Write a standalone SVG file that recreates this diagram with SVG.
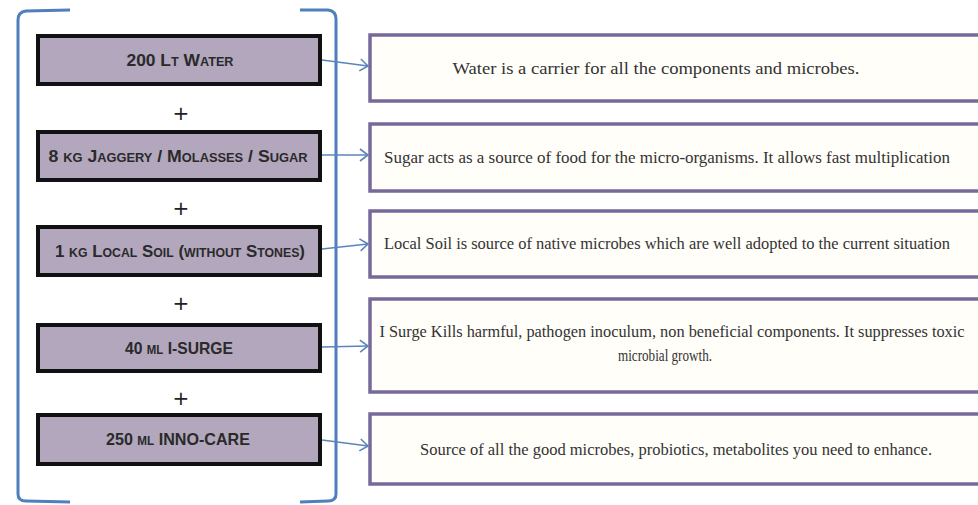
<svg xmlns="http://www.w3.org/2000/svg" width="978" height="505" viewBox="0 0 978 505">
<style>
.in rect{fill:#b2a7bd;stroke:#111;stroke-width:4}
.in text{font-family:"Liberation Sans",Arial,sans-serif;font-weight:bold;font-size:16.5px;fill:#2a2a2a;text-anchor:middle;font-variant:small-caps}
.out rect{fill:#fffef9;stroke:#77699a;stroke-width:3.5}
.out text{font-family:"Liberation Serif","Times New Roman",serif;font-size:16px;fill:#333;text-anchor:middle}
.plus{font-family:"DejaVu Sans",sans-serif;font-size:20px;fill:#222;text-anchor:middle}
.br{fill:none;stroke:#4f7fbd;stroke-width:3}
.conn line{stroke:#5b84bd;stroke-width:1.6;marker-end:url(#ah)}
</style>
<defs>
<marker id="ah" viewBox="0 0 10 14" refX="9" refY="7" markerWidth="10" markerHeight="14" markerUnits="userSpaceOnUse" orient="auto">
<path d="M1,1 L9,7 L1,13" fill="none" stroke="#5b84bd" stroke-width="1.6"/>
</marker>
</defs>
<rect width="978" height="505" fill="#fff"/>
<g id="bracket">
<path class="br" d="M70,10 L26,11 Q18,12 18,20 L18,494 Q18,501 26,501 L70,502"/>
<path class="br" d="M300,10 L328,10 Q336,11 336,19 L336,494 Q336,501 328,501 L300,502" stroke-width="2.5"/>
</g>
<g id="in1" class="in"><rect x="38" y="36" width="282" height="48"/><text x="180" y="66" textLength="107" lengthAdjust="spacingAndGlyphs">200 Lt Water</text></g>
<g id="in2" class="in"><rect x="38" y="132" width="282" height="48"/><text x="178" y="162" textLength="259" lengthAdjust="spacingAndGlyphs">8 kg Jaggery / Molasses / Sugar</text></g>
<g id="in3" class="in"><rect x="38" y="227" width="282" height="48"/><text x="180" y="257" textLength="250" lengthAdjust="spacingAndGlyphs">1 kg Local Soil (without Stones)</text></g>
<g id="in4" class="in"><rect x="38" y="325" width="282" height="46"/><text x="179" y="354" textLength="108" lengthAdjust="spacingAndGlyphs">40 ml I-SURGE</text></g>
<g id="in5" class="in"><rect x="38" y="415" width="282" height="49"/><text x="178" y="445" textLength="144" lengthAdjust="spacingAndGlyphs">250 ml INNO-CARE</text></g>
<g id="plus">
<text class="plus" x="181" y="120">+</text>
<text class="plus" x="181" y="215">+</text>
<text class="plus" x="181" y="310">+</text>
<text class="plus" x="181" y="405">+</text>
</g>
<g id="out1" class="out"><rect x="370" y="35" width="620" height="66"/><text x="656" y="74" textLength="407" lengthAdjust="spacingAndGlyphs">Water is a carrier for all the components and microbes.</text></g>
<g id="out2" class="out"><rect x="370" y="124" width="620" height="67"/><text x="667" y="163" textLength="566" lengthAdjust="spacingAndGlyphs">Sugar acts as a source of food for the micro-organisms. It allows fast multiplication</text></g>
<g id="out3" class="out"><rect x="370" y="211" width="620" height="66"/><text x="667" y="249" textLength="566" lengthAdjust="spacingAndGlyphs">Local Soil is source of native microbes which are well adopted to the current situation</text></g>
<g id="out4" class="out"><rect x="370" y="299" width="620" height="93"/><text x="672" y="337" textLength="585" lengthAdjust="spacingAndGlyphs">I Surge Kills harmful, pathogen inoculum, non beneficial components. It suppresses toxic</text><text x="665" y="361" textLength="94" lengthAdjust="spacingAndGlyphs">microbial growth.</text></g>
<g id="out5" class="out"><rect x="370" y="414" width="620" height="70"/><text x="676" y="455" textLength="512" lengthAdjust="spacingAndGlyphs">Source of all the good microbes, probiotics, metabolites you need to enhance.</text></g>
<g id="connectors" class="conn">
<line x1="322" y1="60" x2="368" y2="66"/>
<line x1="322" y1="155" x2="368" y2="155"/>
<line x1="322" y1="249" x2="368" y2="244"/>
<line x1="322" y1="347" x2="368" y2="346"/>
<line x1="322" y1="440" x2="368" y2="446"/>
</g>
</svg>
